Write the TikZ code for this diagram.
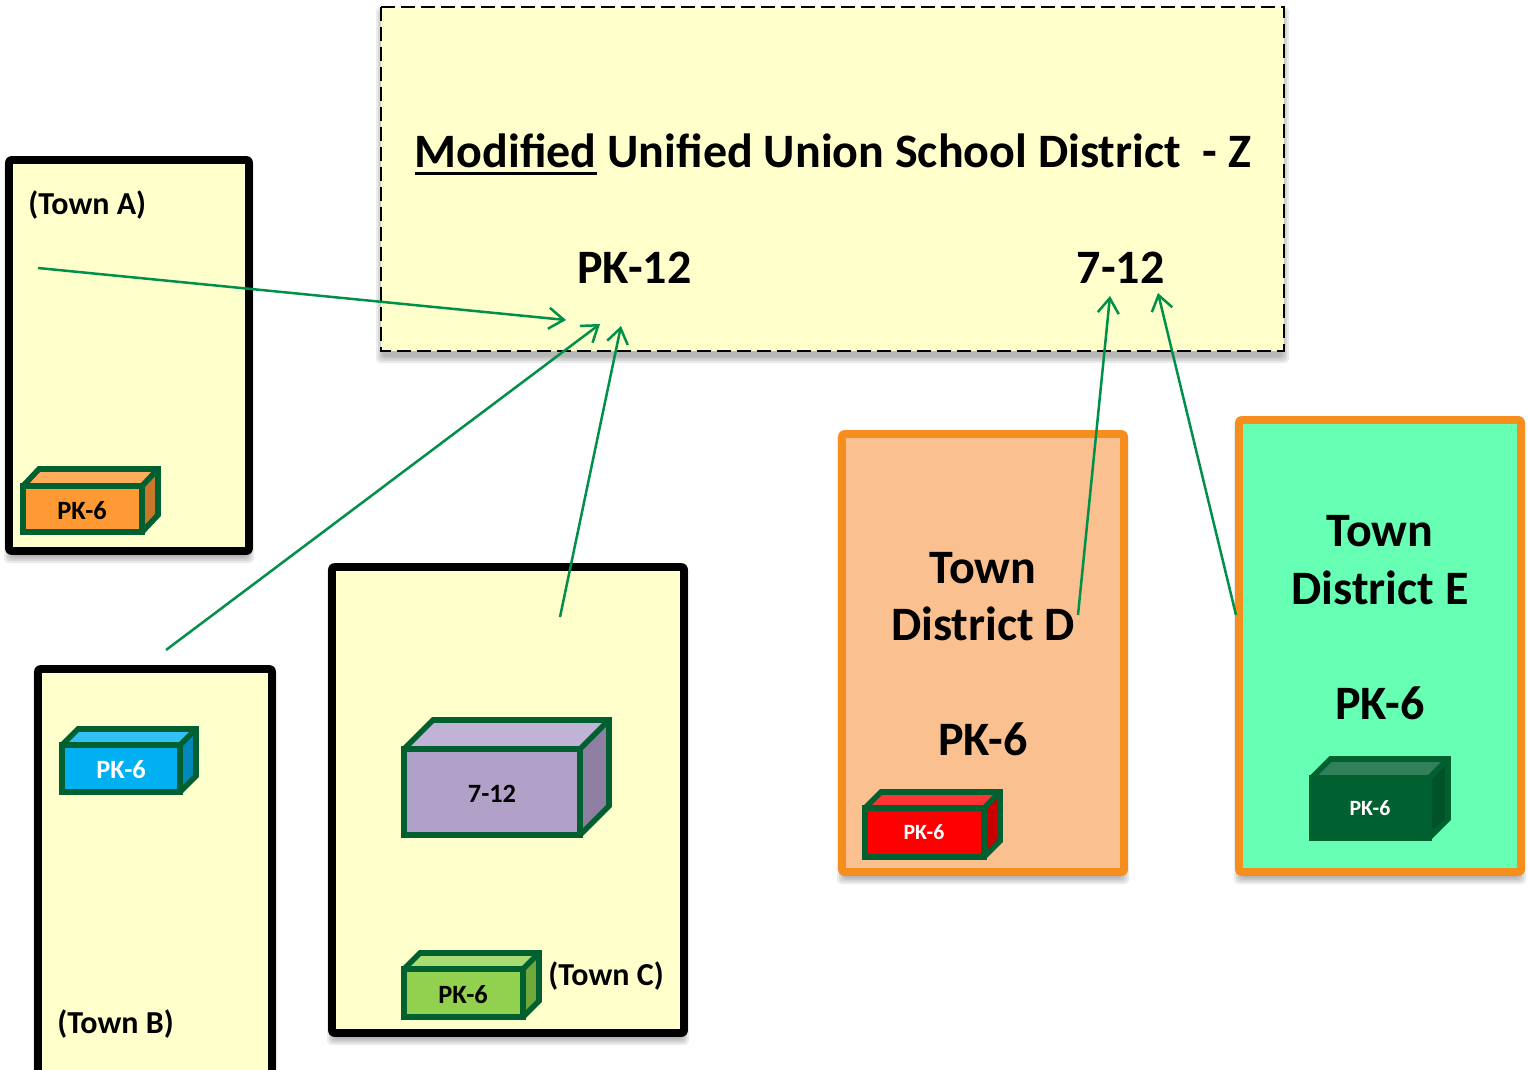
\documentclass[tikz,border=0pt]{standalone}
\usepackage{fontspec}
\setmainfont{Carlito}
\usetikzlibrary{arrows.meta}
\definecolor{boxfill}{HTML}{FFFFCC}
\definecolor{arrowgreen}{HTML}{00904A}
\definecolor{cubeline}{HTML}{006030}
\definecolor{orangeline}{HTML}{F68E1E}
\definecolor{peach}{HTML}{FAC090}
\definecolor{mint}{HTML}{66FFB3}
\definecolor{oF}{HTML}{FF9933}\definecolor{oT}{HTML}{FFAD5C}\definecolor{oS}{HTML}{C8772B}
\definecolor{bF}{HTML}{00B0F0}\definecolor{bT}{HTML}{33C0F3}\definecolor{bS}{HTML}{0088BB}
\definecolor{pF}{HTML}{B1A0C7}\definecolor{pT}{HTML}{C1B3D5}\definecolor{pS}{HTML}{8F7FA3}
\definecolor{gF}{HTML}{92D050}\definecolor{gT}{HTML}{A8DB73}\definecolor{gS}{HTML}{70A83C}
\definecolor{rF}{HTML}{FF0000}\definecolor{rT}{HTML}{FF3333}\definecolor{rS}{HTML}{C80000}
\definecolor{dF}{HTML}{006030}\definecolor{dT}{HTML}{318059}\definecolor{dS}{HTML}{005228}
\tikzset{
  x=0.5pt,y=-0.5pt,
  panel/.style={line width=3.8pt,rounded corners=1pt,line join=round},
  blackpanel/.style={panel,draw=black,fill=boxfill},
  orangepanel/.style={panel,draw=orangeline},
  link/.style={draw=arrowgreen,line width=1.25pt,-{Straight Barb[length=7.5pt,width=10.5pt,line width=1.25pt]}},
  cubeedge/.style={draw=cubeline,line width=2.8pt,line join=miter},
  lbl/.style={font=\bfseries,inner sep=0pt,text=black},
  big/.style={lbl,font=\fontsize{24}{24}\selectfont\bfseries},
  mid/.style={lbl,font=\fontsize{16}{16}\selectfont\bfseries},
  small/.style={lbl,font=\fontsize{13.2}{13.2}\selectfont\bfseries},
  tiny/.style={lbl,text=white,font=\fontsize{10.9}{10.9}\selectfont\bfseries},
}
% soft shadow under a rectangle
\newcommand{\softshadow}[4]{%
  \foreach \s in {6,4,2,0}{
    \fill[black,opacity=0.08,rounded corners=2pt] (#1-\s+1,#2-\s+6) rectangle (#3+\s-1,#4+\s+6);
  }}
% cube: x0,y0,x1,y1 front; dx,dy depth; front,top,side colours
\newcommand{\cube}[9]{%
  \fill[#7] (#1,#2) rectangle (#3,#4);
  \fill[#8] (#1,#2) -- (#1+#5,#2-#6) -- (#3+#5,#2-#6) -- (#3,#2) -- cycle;
  \fill[#9] (#3,#2) -- (#3+#5,#2-#6) -- (#3+#5,#4-#6) -- (#3,#4) -- cycle;
  \draw[cubeedge] (#1,#2) rectangle (#3,#4);
  \draw[cubeedge] (#1,#2) -- (#1+#5,#2-#6) -- (#3+#5,#2-#6) -- (#3+#5,#4-#6) -- (#3,#4);
  \draw[cubeedge] (#3,#2) -- (#3+#5,#2-#6);
}
\begin{document}
\begin{tikzpicture}
\useasboundingbox (0,0) rectangle (1528,1070);
\fill[white] (0,0) rectangle (1528,1070);

% district Z
\softshadow{381}{7}{1284}{351}
\fill[boxfill] (381,7) rectangle (1284,351);
\draw[black,line width=0.8pt,dash pattern=on 7pt off 3pt] (381,7) rectangle (1284,351);
\node[big,anchor=base west] (title) at (414.5,168) {Modified Unified Union School District\ \ - Z};
\draw[black,line width=1.5pt] (415,173.5) -- (597,173.5);
\node[big,anchor=base] (pk12) at (634.5,283.5) {PK-12};
\node[big,anchor=base] (s712) at (1120.5,283.5) {7-12};

% Town A
\softshadow{9}{160}{249}{551}
\draw[blackpanel] (9,160) rectangle (249,551);
\node[mid,anchor=base west] (townA) at (28,214) {(Town A)};
\cube{23}{486}{142}{532}{16}{17}{oF}{oT}{oS}
\node[small] (cubeA) at (82,510.5) {PK-6};

% Town B
\softshadow{38}{669}{272}{1074}
\draw[blackpanel] (38,669) rectangle (272,1074);
\cube{62}{745}{180}{792}{16}{16}{bF}{bT}{bS}
\node[small,text=white] (cubeB) at (121,769.5) {PK-6};
\node[mid,anchor=base west] (townB) at (57,1033) {(Town B)};

% Town C
\softshadow{332}{567}{684}{1033}
\draw[blackpanel] (332,567) rectangle (684,1033);
\cube{404}{749}{580}{835}{29}{29}{pF}{pT}{pS}
\node[small] (cubeC) at (492,793.5) {7-12};
\cube{404}{969}{523}{1017}{16}{16}{gF}{gT}{gS}
\node[small] (cubeCb) at (463,994.5) {PK-6};
\node[mid,anchor=base west] (townC) at (548,985) {(Town C)};

% District D
\softshadow{842}{434}{1124}{872}
\draw[orangepanel,fill=peach] (842,434) rectangle (1124,872);
\node[big,anchor=base] (dA) at (983,583) {Town};
\node[big,anchor=base] (dB) at (983,640.5) {District D};
\node[big,anchor=base] (dC) at (983,755.5) {PK-6};
\cube{865}{808}{984}{857}{16}{16}{rF}{rT}{rS}
\node[tiny] (cubeD) at (924,832.5) {PK-6};

% District E
\softshadow{1239}{420}{1521}{872}
\draw[orangepanel,fill=mint] (1239,420) rectangle (1521,872);
\node[big,anchor=base] (eA) at (1380,546.5) {Town};
\node[big,anchor=base] (eB) at (1380,604.5) {District E};
\node[big,anchor=base] (eC) at (1380,719.5) {PK-6};
\cube{1311.5}{778}{1429}{838}{19}{19}{dF}{dT}{dS}
\node[tiny] (cubeE) at (1370,808.5) {PK-6};

% connector ends
\coordinate (fromA) at (38,268);
\coordinate (toA) at (566,320);
\coordinate (fromB) at (166,650);
\coordinate (toB) at (600,324);
\coordinate (fromC) at (560,617);
\coordinate (toC) at (621,326);
\coordinate (fromD) at (1078,615);
\coordinate (toD) at (1110,296);
\coordinate (fromE) at (1236,615);
\coordinate (toE) at (1158,293);
\draw[link] (fromA) -- (toA);
\draw[link] (fromB) -- (toB);
\draw[link] (fromC) -- (toC);
\draw[link] (fromD) -- (toD);
\draw[link] (fromE) -- (toE);
\end{tikzpicture}
\end{document}
